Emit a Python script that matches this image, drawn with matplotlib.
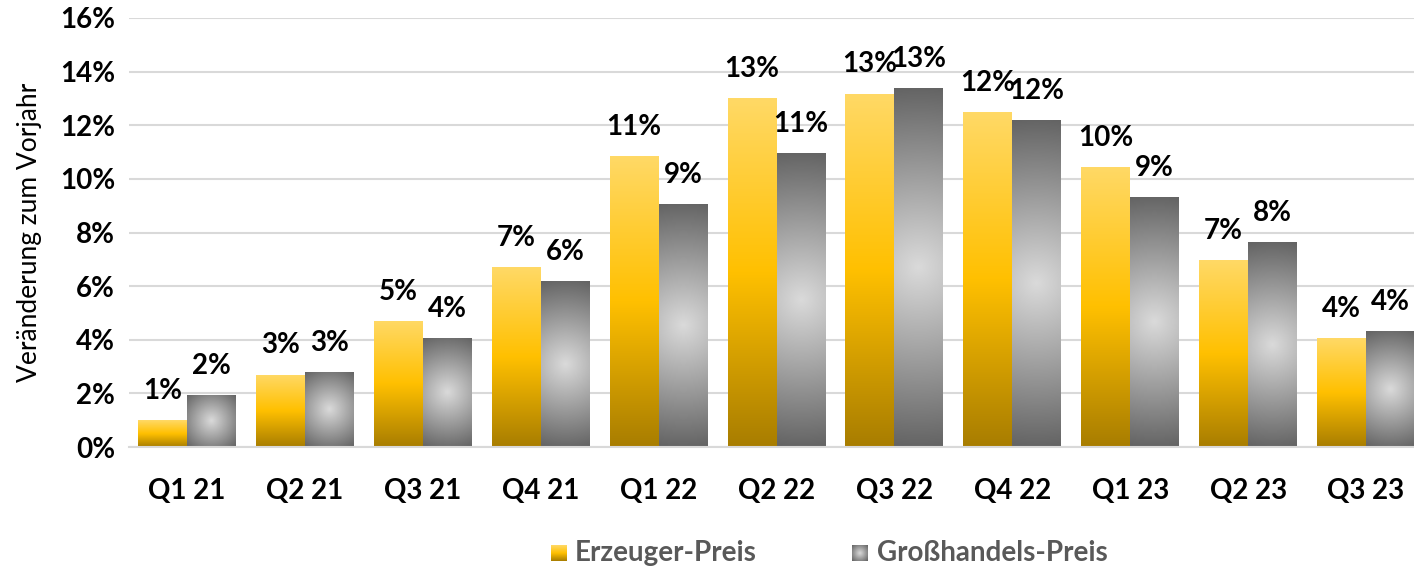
import matplotlib
matplotlib.use("Agg")
import matplotlib.pyplot as plt
from matplotlib.colors import LinearSegmentedColormap
import numpy as np

plt.rcParams['font.family'] = ['Lato', 'DejaVu Sans']

# data (percent change vs previous year)
quarters = ["Q1 21", "Q2 21", "Q3 21", "Q4 21", "Q1 22", "Q2 22",
            "Q3 22", "Q4 22", "Q1 23", "Q2 23", "Q3 23"]
erzeuger = [1.0, 2.7, 4.7, 6.7, 10.85, 13.0, 13.18, 12.48, 10.45, 6.97, 4.06]
grosshandel = [1.95, 2.8, 4.07, 6.19, 9.07, 10.97, 13.4, 12.2, 9.33, 7.64, 4.32]
series_names = ["Erzeuger-Preis", "Großhandels-Preis"]

W, H = 1414, 569
fig = plt.figure(figsize=(W / 100, H / 100), dpi=100)
ax = fig.add_axes([129 / W, (H - 447) / H, (1414 - 129) / W, (447 - 18) / H])

x = np.arange(len(quarters))
bw = 0.415

yellow_cmap = LinearSegmentedColormap.from_list(
    "gold", [(0.0, "#A87D00"), (0.5, "#FFC000"), (1.0, "#FFD966")])
grey_cmap = LinearSegmentedColormap.from_list(
    "grey", [(0.0, "#DADADA"), (1.0, "#636363")])

ax.set_xlim(-0.492, 10.407)
ax.set_ylim(0, 16)

# pixel sizes of data units, used for the round grey gradient
px_x = ax.bbox.width / (ax.get_xlim()[1] - ax.get_xlim()[0])
px_y = ax.bbox.height / 16

bars_y = ax.bar(x - bw / 2, erzeuger, bw, color="none", edgecolor="none")
bars_g = ax.bar(x + bw / 2, grosshandel, bw, color="none", edgecolor="none")

for b in bars_y:
    x0, w, h = b.get_x(), b.get_width(), b.get_height()
    grad = np.linspace(0, 1, 256).reshape(-1, 1)
    im = ax.imshow(grad, cmap=yellow_cmap, origin="lower", aspect="auto",
                   extent=(x0, x0 + w, 0, h), zorder=2, interpolation="bilinear")
    im.set_clip_path(b)

for b in bars_g:
    x0, w, h = b.get_x(), b.get_width(), b.get_height()
    wp, hp = w * px_x, h * px_y
    nx, ny = 60, max(int(hp), 10)
    xx, yy = np.meshgrid(np.linspace(-wp / 2, wp / 2, nx), np.linspace(-hp / 2, hp / 2, ny))
    r = np.sqrt(xx ** 2 + yy ** 2) / np.sqrt((wp / 2) ** 2 + (hp / 2) ** 2)
    im = ax.imshow(r, cmap=grey_cmap, origin="lower", aspect="auto", vmin=0, vmax=1,
                   extent=(x0, x0 + w, 0, h), zorder=2, interpolation="bilinear")
    im.set_clip_path(b)

# value labels
for bars, vals in [(bars_y, erzeuger), (bars_g, grosshandel)]:
    for b, v in zip(bars, vals):
        ax.annotate(f"{round(v):.0f}%", (b.get_x() + b.get_width() / 2, v),
                    xytext=(0, 21), textcoords="offset points", ha="center", va="center",
                    fontsize=20, fontweight="bold", color="black", zorder=5)

ax.set_yticks(np.arange(0, 17, 2))
ax.set_yticklabels([f"{t}%" for t in range(0, 17, 2)], fontsize=20, fontweight="bold")
ax.set_xticks(x)
ax.set_xticklabels(quarters, fontsize=20, fontweight="bold")
ax.tick_params(axis="both", length=0)
ax.tick_params(axis="x", pad=22)
ax.tick_params(axis="y", pad=10)
ax.grid(axis="y", color="#D9D9D9", linewidth=1.5, zorder=0)
ax.set_axisbelow(True)
for s in ["top", "right", "left"]:
    ax.spines[s].set_visible(False)
ax.spines["bottom"].set_color("#D9D9D9")
ax.spines["bottom"].set_linewidth(1.5)

fig.text(30 / W, 1 - 232 / H, "Veränderung zum Vorjahr", rotation=90, ha="center",
         va="center", fontsize=19, color="black")

# legend drawn by hand with gradient squares
for (lx, tx), name, kind in zip([(551, 575), (852, 877)], series_names, ["y", "g"]):
    lax = fig.add_axes([lx / W, (H - 561) / H, 16 / W, 16 / H])
    if kind == "y":
        lax.imshow(np.linspace(0, 1, 64).reshape(-1, 1), cmap=yellow_cmap, origin="lower",
                   aspect="auto", interpolation="bilinear")
    else:
        xx, yy = np.meshgrid(np.linspace(-1, 1, 32), np.linspace(-1, 1, 32))
        lax.imshow(np.sqrt(xx ** 2 + yy ** 2) / np.sqrt(2), cmap=grey_cmap, vmin=0, vmax=1,
                   aspect="auto", interpolation="bilinear")
    lax.axis("off")
    fig.text(tx / W, 1 - 553 / H, name, ha="left", va="center", fontsize=20,
             fontweight="bold", color="#595959")

fig.savefig("out.png", dpi=100)
